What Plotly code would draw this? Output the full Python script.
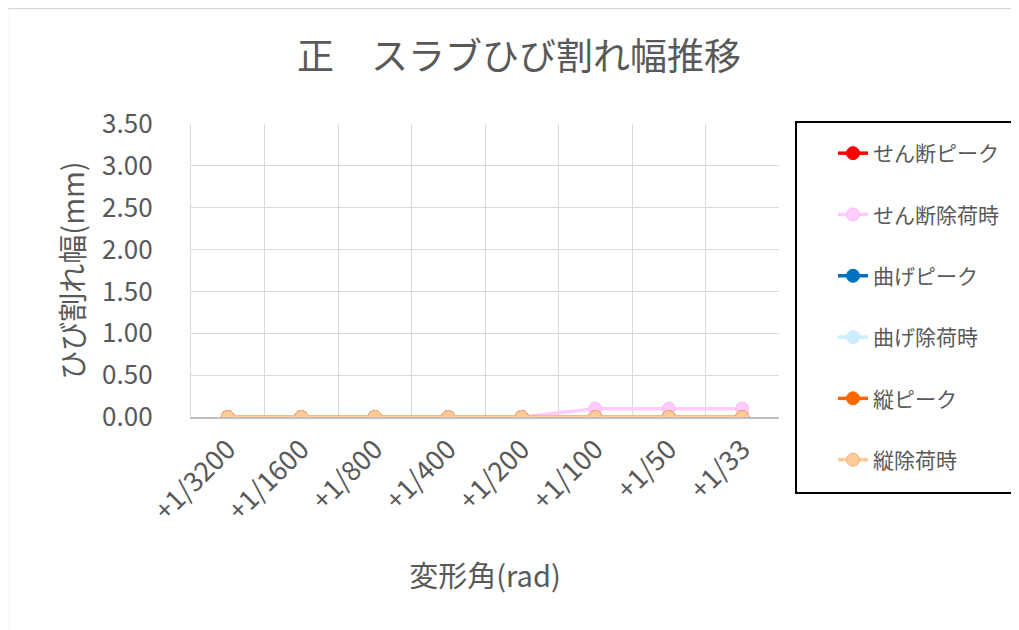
import plotly.graph_objects as go

categories = ["+1/3200", "+1/1600", "+1/800", "+1/400", "+1/200", "+1/100", "+1/50", "+1/33"]
shear_peak = [0, 0, 0, 0, 0, 0, 0, 0]
shear_unload = [0, 0, 0, 0, 0, 0.1, 0.1, 0.1]
bend_peak = [0, 0, 0, 0, 0, 0, 0, 0]
bend_unload = [0, 0, 0, 0, 0, 0, 0, 0]
vert_peak = [0, 0, 0, 0, 0, 0, 0, 0]
vert_unload = [0, 0, 0, 0, 0, 0, 0, 0]

series = [
    ("せん断ピーク", shear_peak, "#FF0000", "#FF0000"),
    ("せん断除荷時", shear_unload, "#FFCCFF", "#FFB8F5"),
    ("曲げピーク", bend_peak, "#0070C0", "#0070C0"),
    ("曲げ除荷時", bend_unload, "#CCECFF", "#CCECFF"),
    ("縦ピーク", vert_peak, "#FF6600", "#FF6600"),
    ("縦除荷時", vert_unload, "#FFCC99", "#F4B183"),
]

FONT = "Noto Sans CJK JP"
GREY = "#595959"

xs = list(range(len(categories)))
fig = go.Figure()
for i, (name, vals, col, mline) in enumerate(series):
    fig.add_trace(go.Scatter(
        x=xs, y=vals, name=name, mode="lines+markers",
        line=dict(color=col, width=3.5),
        marker=dict(color=col, size=13, line=dict(color=mline, width=1)),
        legendgroup=f"g{i}",
    ))

# page renders with an 8px body offset
OFF = 8
W, H = 1019 - OFF, 630 - OFF
L, T = 191 - OFF, 124 - OFF
PW, PH = 588, 293
R, B = W - L - PW, H - T - PH


def px_x(page_x):
    return (page_x - 191) / PW


def px_y(page_y):
    return (417 - page_y) / PH


fig.update_layout(
    width=W, height=H,
    margin=dict(l=L, r=R, t=T, b=B, pad=0),
    paper_bgcolor="white", plot_bgcolor="white",
    font=dict(family=FONT, color=GREY),
    title=dict(text="正　スラブひび割れ幅推移", x=(519 - OFF) / W, xanchor="center",
               y=1 - (57 - OFF) / H, yanchor="middle",
               font=dict(size=37, color=GREY, family=FONT)),
    xaxis=dict(
        range=[-0.5, 7.5], tickvals=xs, ticktext=categories,
        tickangle=-45, tickfont=dict(size=27, color=GREY),
        showgrid=False, zeroline=False,
        showline=True, linecolor="#BFBFBF", linewidth=1.5,
        ticks="", ticklabelstandoff=4,
        minor=dict(tick0=0.5, dtick=1, showgrid=True, gridcolor="#D9D9D9", gridwidth=1.3, ticks=""),
        title=dict(text="変形角(rad)", font=dict(size=29, color=GREY), standoff=40),
    ),
    yaxis=dict(
        range=[0, 3.5], dtick=0.5, tickformat=".2f",
        tickfont=dict(size=26, color=GREY),
        showgrid=True, gridcolor="#D9D9D9", gridwidth=1.3,
        zeroline=False, showline=True, linecolor="#D9D9D9", linewidth=1.3,
        ticks="", ticklabelstandoff=32,
        title=dict(text="ひび割れ幅(mm)", font=dict(size=29, color=GREY), standoff=8),
    ),
    legend=dict(
        x=px_x(833), xanchor="left", y=px_y(133), yanchor="top",
        bgcolor="rgba(0,0,0,0)", borderwidth=0,
        font=dict(size=21, color=GREY, family=FONT),
        tracegroupgap=31, traceorder="grouped", maxheight=600,
    ),
    showlegend=True,
    shapes=[
        dict(type="rect", xref="paper", yref="paper",
             x0=(OFF - 0.5 - 191 + 0) / PW, x1=px_x(1030),
             y0=px_y(640), y1=px_y(OFF + 0.5),
             line=dict(color="#D9D9D9", width=1.3), fillcolor="rgba(0,0,0,0)", layer="below"),
        dict(type="rect", xref="paper", yref="paper",
             x0=px_x(796), x1=px_x(1017), y0=px_y(493), y1=px_y(122),
             line=dict(color="black", width=2), fillcolor="white", layer="below"),
    ],
)

fig.write_html("out.html")
